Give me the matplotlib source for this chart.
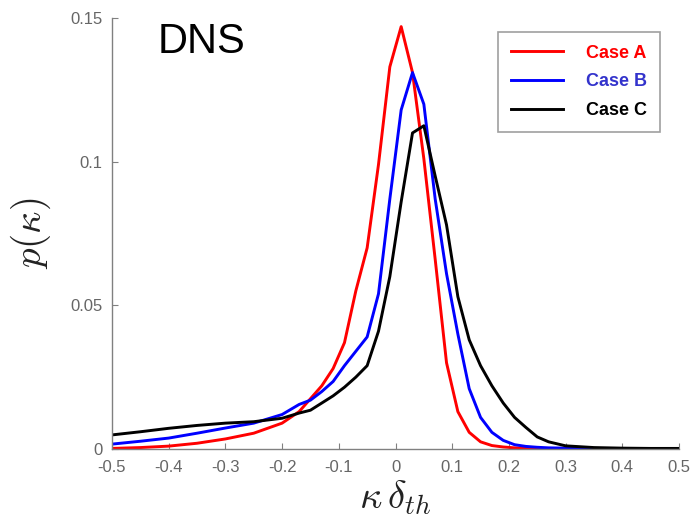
import matplotlib
matplotlib.use("Agg")
import matplotlib.pyplot as plt

# curvature pdf
kappa = [-0.5, -0.45, -0.4, -0.35, -0.3, -0.25, -0.2, -0.17, -0.15, -0.13,
         -0.11, -0.09, -0.07, -0.05, -0.03, -0.01, 0.01, 0.03, 0.05, 0.07,
         0.09, 0.11, 0.13, 0.15, 0.17, 0.19, 0.21, 0.23, 0.25, 0.27,
         0.3, 0.35, 0.4, 0.45, 0.5]
case_a = [0.0002, 0.0005, 0.001, 0.002, 0.0035, 0.0055, 0.009, 0.013, 0.0175, 0.022,
          0.028, 0.037, 0.055, 0.070, 0.099, 0.133, 0.147, 0.131, 0.101, 0.066,
          0.030, 0.013, 0.0058, 0.0025, 0.0012, 0.0007, 0.0004, 0.0003, 0.0002, 0.0001,
          0.0001, 0.0, 0.0, 0.0, 0.0]
case_b = [0.0017, 0.0027, 0.0038, 0.0055, 0.0073, 0.009, 0.012, 0.0155, 0.017, 0.020,
          0.0235, 0.029, 0.034, 0.039, 0.054, 0.087, 0.118, 0.131, 0.120, 0.087,
          0.061, 0.040, 0.021, 0.011, 0.0058, 0.003, 0.0015, 0.0009, 0.0006, 0.0004,
          0.0003, 0.0002, 0.0001, 0.0, 0.0]
case_c = [0.0049, 0.006, 0.0072, 0.0082, 0.009, 0.0095, 0.0107, 0.0125, 0.0135, 0.016,
          0.0185, 0.0215, 0.025, 0.029, 0.041, 0.060, 0.086, 0.110, 0.1125, 0.095,
          0.078, 0.053, 0.038, 0.029, 0.022, 0.016, 0.011, 0.0075, 0.0042, 0.0025,
          0.0011, 0.0005, 0.0003, 0.0002, 0.0002]

labels = ['Case A', 'Case B', 'Case C']
colors = ['#ff0000', '#0000ff', '#000000']
text_colors = ['#ff0000', '#3333cc', '#000000']
xticks = [-0.5, -0.4, -0.3, -0.2, -0.1, 0, 0.1, 0.2, 0.3, 0.4, 0.5]
xticklabels = ['-0.5', '-0.4', '-0.3', '-0.2', '-0.1', '0', '0.1', '0.2', '0.3', '0.4', '0.5']
yticks = [0, 0.05, 0.1, 0.15]
yticklabels = ['0', '0.05', '0.1', '0.15']

plt.rcParams['font.family'] = ['Liberation Sans', 'DejaVu Sans']
plt.rcParams['mathtext.fontset'] = 'cm'

W, H = 693, 528
fig = plt.figure(figsize=(W / 100, H / 100), dpi=100)
ax = fig.add_axes([112 / W, 1 - 449 / H, (679 - 112) / W, (449 - 18) / H])

for y, c, lab in zip([case_a, case_b, case_c], colors, labels):
    ax.plot(kappa, y, color=c, lw=2.1, label=lab)

ax.set_xlim(-0.5, 0.5)
ax.set_ylim(0, 0.15)
ax.set_xticks(xticks)
ax.set_xticklabels(xticklabels)
ax.set_yticks(yticks)
ax.set_yticklabels(yticklabels)

grey = '#808080'
for s in ['top', 'right']:
    ax.spines[s].set_visible(False)
for s in ['left', 'bottom']:
    ax.spines[s].set_color(grey)
    ax.spines[s].set_linewidth(1.0)
ax.tick_params(direction='in', length=4.5, color=grey, labelcolor='#666666',
               labelsize=12)
ax.tick_params(axis='x', pad=8)
ax.tick_params(axis='y', pad=7)

ax.set_xlabel(r'$\kappa\,\delta_{th}$', fontsize=28, color='#222222', labelpad=2)
ax.set_ylabel(r'$p(\kappa)$', fontsize=28, color='#222222', labelpad=12)

fig.text(158 / W, 1 - 53 / H, 'DNS', fontsize=30, ha='left', va='baseline')

leg = ax.legend(loc='upper left', bbox_to_anchor=(498 / W, 1 - 32 / H),
                bbox_transform=fig.transFigure, fancybox=False,
                edgecolor='#a0a0a0', framealpha=1, handlelength=2.9,
                handletextpad=1.3, labelspacing=0.65, borderpad=0.7,
                borderaxespad=0, prop={'weight': 'bold', 'size': 13})
leg.get_frame().set_linewidth(1.2)
for t, c in zip(leg.get_texts(), text_colors):
    t.set_color(c)

fig.savefig('out.png', dpi=100)
